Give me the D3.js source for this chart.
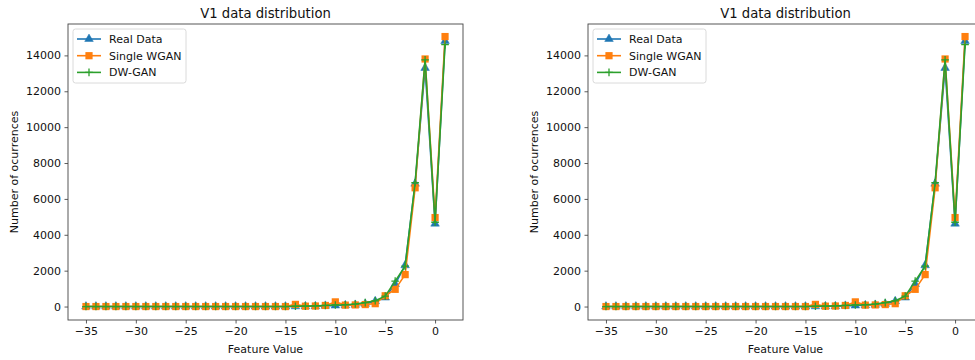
<!DOCTYPE html>
<html>
<head>
<meta charset="utf-8">
<script src="https://cdn.jsdelivr.net/npm/d3@7"></script>
<style>
  html, body { margin: 0; padding: 0; background: #fff; }
  svg { display: block; font-family: "DejaVu Sans", sans-serif; }
</style>
</head>
<body>
<svg id="chart" width="975" height="360"></svg>
<script>
// ---- data ----
const featureValues = d3.range(-35, 2); // -35 .. 1
const realData = [0,0,0,0,0,0,0,0,0,0,0,0,0,0,0,0,0,0,0,0,0,
  10,15,20,40,55,70,95,150,300,500,1250,2300,6850,13300,4620,14800];
const singleWGAN = [0,0,0,0,0,0,0,0,0,0,0,0,0,0,0,0,0,0,0,0,0,
  120,20,30,60,260,80,90,110,160,600,960,1780,6620,13800,4960,15050];
const dwGAN = [0,0,0,0,0,0,0,0,0,0,0,0,0,0,0,0,0,0,0,0,0,
  20,25,35,60,90,100,140,220,320,580,1420,2250,6900,13750,4700,14600];
const yTicks = [0,2000,4000,6000,8000,10000,12000,14000];
const xTicks = [-35,-30,-25,-20,-15,-10,-5,0];
const seriesNames = ["Real Data","Single WGAN","DW-GAN"];
const chartTitle = "V1 data distribution";
const xLabel = "Feature Value";
const yLabel = "Number of ocurrences";

const colors = ["#1f77b4","#ff7f0e","#2ca02c"];
const markers = ["triangle","square","plus"];
const seriesValues = [realData, singleWGAN, dwGAN];

const svg = d3.select("#chart");

function drawMarker(g, type, color) {
  if (type === "triangle") {
    g.append("path").attr("d", d3.symbol(d3.symbolTriangle, 32)()).attr("fill", color).attr("stroke", color).attr("stroke-width", 0.5);
  } else if (type === "square") {
    g.append("rect").attr("x", -3.6).attr("y", -3.6).attr("width", 7.2).attr("height", 7.2).attr("fill", color);
  } else {
    g.append("path").attr("d", "M-3.8,0H3.8M0,-3.8V3.8").attr("stroke", color).attr("stroke-width", 1.3).attr("fill", "none");
  }
}

function panel(offsetX) {
  const left = 68 + offsetX, right = 463 + offsetX, top = 24, bottom = 320;
  const x = d3.scaleLinear().domain([-36.8, 2.8]).range([left, right]);
  const y = d3.scaleLinear().domain([-750, 15750]).range([bottom, top]);
  const g = svg.append("g");

  const clipId = "clip" + offsetX;
  g.append("clipPath").attr("id", clipId).append("rect")
    .attr("x", left).attr("y", top).attr("width", right - left).attr("height", bottom - top);

  const plot = g.append("g").attr("clip-path", `url(#${clipId})`);
  seriesValues.forEach((vals, si) => {
    const pts = featureValues.map((fv, i) => [fv, vals[i]]);
    plot.append("path")
      .attr("d", d3.line().x(d => x(d[0])).y(d => y(d[1]))(pts))
      .attr("fill", "none").attr("stroke", colors[si]).attr("stroke-width", 1.6)
      .attr("stroke-linejoin", "round");
    pts.forEach(p => {
      const mg = plot.append("g").attr("transform", `translate(${x(p[0])},${y(p[1])})`);
      drawMarker(mg, markers[si], colors[si]);
    });
  });

  const xAxis = d3.axisBottom(x).tickValues(xTicks).tickSize(3.5).tickPadding(3.5).tickFormat(d => d < 0 ? "\u2212" + Math.abs(d) : String(d));
  const yAxis = d3.axisLeft(y).tickValues(yTicks).tickSize(3.5).tickPadding(3.5).tickFormat(d => String(d));
  const gx = g.append("g").attr("transform", `translate(0,${bottom})`).call(xAxis);
  const gy = g.append("g").attr("transform", `translate(${left},0)`).call(yAxis);
  [gx, gy].forEach(a => {
    a.select(".domain").remove();
    a.selectAll(".tick line").attr("stroke", "#333").attr("stroke-width", 0.8);
    a.selectAll(".tick text").attr("fill", "#111").style("font-size", "11px").style("font-family", "DejaVu Sans");
  });

  g.append("rect").attr("x", left).attr("y", top).attr("width", right - left).attr("height", bottom - top)
    .attr("fill", "none").attr("stroke", "#444").attr("stroke-width", 0.9);

  g.append("text").attr("x", (left + right) / 2).attr("y", 18).attr("text-anchor", "middle")
    .style("font-size", "13.2px").attr("fill", "#111").text(chartTitle);
  g.append("text").attr("x", (left + right) / 2).attr("y", 352.5).attr("text-anchor", "middle")
    .style("font-size", "11px").attr("fill", "#111").text(xLabel);
  g.append("text").attr("transform", `translate(${18 + offsetX},${(top + bottom) / 2}) rotate(-90)`)
    .attr("text-anchor", "middle").style("font-size", "11px").attr("fill", "#111").text(yLabel);

  const lg = g.append("g").attr("transform", `translate(${left + 5},${top + 5})`);
  lg.append("rect").attr("x", 0).attr("y", 0).attr("width", 113).attr("height", 54).attr("rx", 2.5)
    .attr("fill", "#fff").attr("fill-opacity", 0.8).attr("stroke", "#d0d0d0").attr("stroke-width", 0.8);
  seriesNames.forEach((name, i) => {
    const ry = 10 + i * 16.7;
    lg.append("line").attr("x1", 4).attr("x2", 28).attr("y1", ry).attr("y2", ry)
      .attr("stroke", colors[i]).attr("stroke-width", 1.6);
    const mg = lg.append("g").attr("transform", `translate(16,${ry})`);
    drawMarker(mg, markers[i], colors[i]);
    lg.append("text").attr("x", 36).attr("y", ry + 4).style("font-size", "11px").attr("fill", "#111").text(name);
  });
}

panel(0);
panel(520);
</script>
</body>
</html>
